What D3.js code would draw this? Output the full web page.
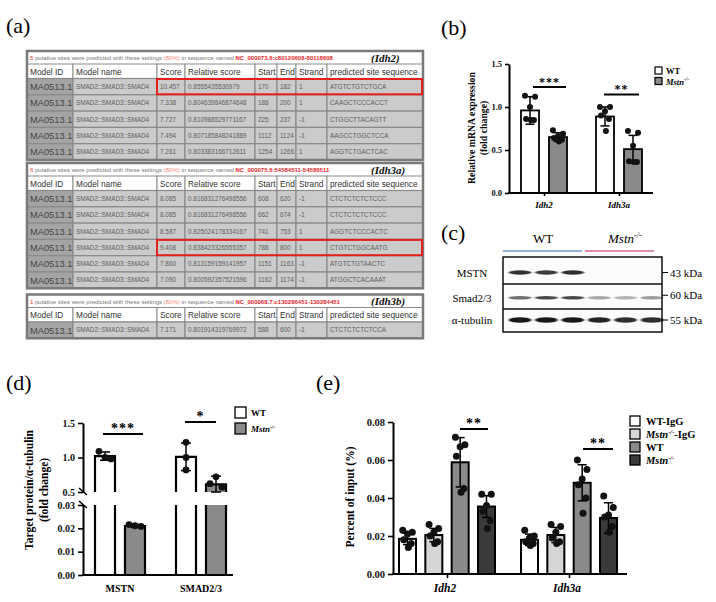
<!DOCTYPE html>
<html><head><meta charset="utf-8">
<script src="https://cdn.jsdelivr.net/npm/d3@7"></script>
<style>body{margin:0;background:#fff}svg{display:block}</style>
</head><body><svg id="c" width="716" height="602"></svg>
<script>
// ---------------- DATA ----------------
const tableColumns = ["Model ID","Model name","Score","Relative score","Start","End","Strand","predicted site sequence"];
const idh2Title = ["5","NC_000073.6:c80120608-80118608","Idh2"];
const idh2Sites = [
  ["MA0513.1","SMAD2::SMAD3::SMAD4","10.457","0.8555435536979","170","182","1","ATGTCTGTCTGCA"],
  ["MA0513.1","SMAD2::SMAD3::SMAD4","7.338","0.804639846874648","188","200","1","CAAGCTCCCACCT"],
  ["MA0513.1","SMAD2::SMAD3::SMAD4","7.727","0.810988529771167","225","237","-1","CTGGCTTACAGTT"],
  ["MA0513.1","SMAD2::SMAD3::SMAD4","7.494","0.807185848241889","1112","1124","-1","AAGCCTGGCTCCA"],
  ["MA0513.1","SMAD2::SMAD3::SMAD4","7.261","0.803383166712611","1254","1266","1","AGGTCTGACTCAC"]
];
const idh3aTitle = ["6","NC_000075.6:54584511-54586511","Idh3a"];
const idh3aSites = [
  ["MA0513.1","SMAD2::SMAD3::SMAD4","8.085","0.816831276498556","608","620","-1","CTCTCTCTCTCCC"],
  ["MA0513.1","SMAD2::SMAD3::SMAD4","8.085","0.816831276498556","662","674","-1","CTCTCTCTCTCCC"],
  ["MA0513.1","SMAD2::SMAD3::SMAD4","8.587","0.825024178334167","741","753","1","AGGTCTCCCACTC"],
  ["MA0513.1","SMAD2::SMAD3::SMAD4","9.408","0.838423326555357","788","800","1","CTGTCTGGCAATG"],
  ["MA0513.1","SMAD2::SMAD3::SMAD4","7.860","0.813159159141957","1151","1163","-1","ATGTCTGTAACTC"],
  ["MA0513.1","SMAD2::SMAD3::SMAD4","7.090","0.800592357521596","1162","1174","-1","ATGGCTCACAAAT"]
];
const idh3bTitle = ["1","NC_000068.7:c130286451-130284451","Idh3b"];
const idh3bSites = [
  ["MA0513.1","SMAD2::SMAD3::SMAD4","7.171","0.801914319769972","588","600","-1","CTCTCTCTCTCCA"]
];
const highlightRows = [0, 3, -1];

// panel b
const bGenes = ["Idh2","Idh3a"];
const bGroups = ["WT","Mstn"];
const bMeans = [[0.96,0.65],[0.89,0.51]];
const bSD = [[0.16,0.05],[0.11,0.16]];
const bPoints = [
  [[1.13,1.12,1.0,0.86,0.85,0.85],[0.73,0.69,0.66,0.64,0.62,0.60]],
  [[1.0,1.0,0.95,0.9,0.86,0.72],[0.72,0.70,0.55,0.37,0.36,0.36]]
];
const bTicks = [0,0.5,1.0,1.5];
const bSig = ["***","**"];

// panel c
const blotRows = ["MSTN","Smad2/3","α-tubulin"];
const blotMarkers = ["43 kDa","60 kDa","55 kDa"];
const blotGroups = ["WT","Mstn"];
const bandIntensity = [
  [0.85,0.8,0.85,0,0,0],
  [0.6,0.75,0.75,0.35,0.3,0.4],
  [0.95,0.95,0.95,0.9,0.85,0.85]
];

// panel d
const dTargets = ["MSTN","SMAD2/3"];
const dMeans = [[1.02,0.021],[1.01,0.61]];
const dSD = [[0.06,0.0006],[0.2,0.12]];
const dPoints = [[[1.09,1.0,0.98],[0.0216,0.0211,0.0208]],[[1.22,1.0,0.82],[0.72,0.62,0.57]]];
const dTicksUpper = [0.5,1.0,1.5];
const dTicksLower = [0,0.01,0.02,0.03];
const dSig = ["***","*"];

// panel e
const eGenes = ["Idh2","Idh3a"];
const eGroups = ["WT-IgG","Mstn-IgG","WT","Mstn"];
const eMeans = [[0.0185,0.0205,0.0588,0.0355],[0.018,0.0205,0.048,0.0295]];
const eSD = [[0.003,0.0035,0.013,0.0057],[0.003,0.004,0.0095,0.008]];
const ePoints = [
  [[0.023,0.022,0.021,0.018,0.016,0.014],[0.026,0.024,0.022,0.020,0.017,0.016],[0.072,0.068,0.067,0.062,0.045,0.043],[0.042,0.042,0.036,0.033,0.028,0.024]],
  [[0.023,0.020,0.019,0.017,0.016,0.015],[0.026,0.025,0.022,0.019,0.017,0.016],[0.060,0.055,0.050,0.047,0.040,0.032],[0.041,0.035,0.031,0.030,0.025,0.022]]
];
const eTicks = [0,0.02,0.04,0.06,0.08];
const eSig = ["**","**"];

// ---------------- DRAW ----------------
const svg = d3.select("#c");
const serif = "'Liberation Serif','Times New Roman',serif";
const sans = "'Liberation Sans',Arial,sans-serif";
const jit = [-0.28,0.28,0,-0.22,0.22,0.05];

function mstn(sel, size, extra) {
  sel.append("tspan").attr("font-style","italic").text("Mstn");
  sel.append("tspan").attr("font-style","italic").attr("font-size",size*0.62).attr("dy",-size*0.38).text("-/-");
  if (extra) sel.append("tspan").attr("dy",size*0.38).text(extra);
}

// panel labels
[["(a)",6,33],["(b)",441,35],["(c)",441,240],["(d)",6,390],["(e)",316,390]].forEach(p=>{
  svg.append("text").attr("x",p[1]).attr("y",p[2]).attr("font-family",serif).attr("font-size",22).text(p[0]);
});

// ---------- tables ----------
const colX = [27,73,157,185,255,277,296,327,423];
function drawTable(top, title, rows, hi) {
  const g = svg.append("g");
  const titleH = 13, headH = 14.5, rowH = 16.3;
  const L = colX[0], R = colX[colX.length-1];
  const yHead = top + titleH, yRows = yHead + headH;
  const bottom = yRows + rows.length*rowH;
  g.append("rect").attr("x",L).attr("y",top).attr("width",R-L).attr("height",bottom-top).attr("fill","#fff");
  const t = g.append("text").attr("x",L+3).attr("y",top+9).attr("font-family",sans).attr("font-size",6).attr("fill","#777");
  t.append("tspan").attr("fill","#e8403a").text(title[0]);
  t.append("tspan").text(" putative sites were predicted with these settings ");
  t.append("tspan").attr("fill","#f08a80").text("(80%)");
  t.append("tspan").text(" in sequence named ");
  t.append("tspan").attr("fill","#e8262a").attr("font-weight","bold").text(title[1]);
  g.append("text").attr("x",L+344).attr("y",top+10.5).attr("font-family",serif).attr("font-size",11).attr("font-weight","bold").attr("font-style","italic").attr("fill","#111").text("("+title[2]+")");
  g.selectAll(".hc").data(tableColumns).join("rect").attr("x",(d,j)=>colX[j]).attr("y",yHead).attr("width",(d,j)=>colX[j+1]-colX[j]).attr("height",headH).attr("fill","#fff").attr("stroke","#8c8c8c").attr("stroke-width",1);
  g.selectAll(".ht").data(tableColumns).join("text").attr("x",(d,j)=>colX[j]+3).attr("y",yHead+10.5).attr("font-family",sans).attr("font-size",8.3).attr("fill","#333").text(d=>d);
  rows.forEach((r,i)=>{
    const y = yRows + i*rowH;
    g.selectAll(".c"+i).data(r).join("rect").attr("x",(d,j)=>colX[j]).attr("y",y).attr("width",(d,j)=>colX[j+1]-colX[j]).attr("height",rowH)
      .attr("fill",(d,j)=>j===0?"#a4a4a4":"#cbcbcb").attr("stroke","#8a8a8a").attr("stroke-width",1.2);
    g.selectAll(".t"+i).data(r).join("text").attr("x",(d,j)=>colX[j]+3).attr("y",(d,j)=>y+rowH/2+(j===0?3.4:2.3))
      .attr("font-family",sans).attr("font-size",(d,j)=>j===0?9.3:6.4).attr("fill",(d,j)=>j===0?"#444":"#606060").text(d=>d);
  });
  g.append("rect").attr("x",L).attr("y",top).attr("width",R-L).attr("height",bottom-top).attr("fill","none").attr("stroke","#7a7a7a").attr("stroke-width",2.5);
  if (hi >= 0) {
    g.append("rect").attr("x",colX[2]).attr("y",yRows+hi*rowH+0.5).attr("width",R-colX[2]-1).attr("height",rowH-1)
      .attr("fill","none").attr("stroke","#e3201c").attr("stroke-width",2);
  }
  return bottom;
}
drawTable(51, idh2Title, idh2Sites, highlightRows[0]);
drawTable(163, idh3aTitle, idh3aSites, highlightRows[1]);
drawTable(294.5, idh3bTitle, idh3bSites, highlightRows[2]);

function styleAxis(g, fs) {
  g.attr("font-family",serif).attr("font-size",fs).attr("font-weight","bold");
  g.selectAll("path.domain").attr("stroke","#000").attr("stroke-width",2);
  g.selectAll(".tick line").attr("stroke","#000").attr("stroke-width",1.6);
  g.selectAll(".tick text").attr("fill","#111");
}
function errBar(g, x, y1, y2, cap) {
  g.append("line").attr("x1",x).attr("x2",x).attr("y1",y1).attr("y2",y2).attr("stroke","#000").attr("stroke-width",1.5);
  g.append("line").attr("x1",x-cap/2).attr("x2",x+cap/2).attr("y1",y1).attr("y2",y1).attr("stroke","#000").attr("stroke-width",1.5);
  g.append("line").attr("x1",x-cap/2).attr("x2",x+cap/2).attr("y1",y2).attr("y2",y2).attr("stroke","#000").attr("stroke-width",1.5);
}
function sig(g, txt, cx, x1, x2, yLine, fs) {
  g.append("text").attr("x",cx).attr("y",yLine-1.5).attr("text-anchor","middle").attr("font-family",serif).attr("font-weight","bold").attr("font-size",fs).attr("letter-spacing",1).text(txt);
  g.append("line").attr("x1",x1).attr("x2",x2).attr("y1",yLine).attr("y2",yLine).attr("stroke","#000").attr("stroke-width",2);
}

// ---------- panel b ----------
{
  const g = svg.append("g");
  const y = d3.scaleLinear().domain([0,1.5]).range([193,64]);
  const x = d3.scalePoint().domain(bGenes).range([544,619]);
  const off = d3.scalePoint().domain(bGroups).range([-14,14]);
  const bw = 18, fills = ["#fff","#8a8a8a"];
  bGenes.forEach((gene,gi)=>{
    bGroups.forEach((grp,si)=>{
      const cx = x(gene)+off(grp);
      g.append("rect").attr("x",cx-bw/2).attr("y",y(bMeans[gi][si])).attr("width",bw).attr("height",y(0)-y(bMeans[gi][si]))
        .attr("fill",fills[si]).attr("stroke","#000").attr("stroke-width",1.8);
      errBar(g, cx, y(bMeans[gi][si]+bSD[gi][si]), y(bMeans[gi][si]-bSD[gi][si]), 9);
      g.selectAll(null).data(bPoints[gi][si]).join("circle").attr("cx",(d,i)=>cx+jit[i]*bw).attr("cy",d=>y(d)).attr("r",3).attr("fill","#111");
    });
  });
  const ax = g.append("g").attr("transform","translate(509,0)").call(d3.axisLeft(y).tickValues(bTicks).tickFormat(d3.format(".1f")).tickSize(4).tickSizeOuter(0));
  styleAxis(ax, 8.5);
  g.append("line").attr("x1",508).attr("x2",653).attr("y1",193).attr("y2",193).attr("stroke","#000").attr("stroke-width",2);
  const xa = g.append("g").attr("transform","translate(0,193)").call(d3.axisBottom(x).tickSize(3).tickFormat(""));
  xa.select(".domain").remove(); xa.selectAll(".tick line").attr("stroke","#000").attr("stroke-width",1.6);
  bGenes.forEach(gene=>g.append("text").attr("x",x(gene)).attr("y",208).attr("text-anchor","middle").attr("font-family",serif).attr("font-weight","bold").attr("font-style","italic").attr("font-size",9).text(gene));
  const yl = g.append("text").attr("transform","translate(475,128) rotate(-90)").attr("text-anchor","middle").attr("font-family",serif).attr("font-weight","bold").attr("font-size",9.8);
  yl.append("tspan").attr("x",0).attr("dy",0).text("Relative mRNA expression");
  yl.append("tspan").attr("x",0).attr("dy",11.5).text("(fold change)");
  sig(g, bSig[0], 549.5, 533, 566, 87, 12);
  sig(g, bSig[1], 621.5, 604, 639, 94.5, 12);
  bGroups.forEach((grp,i)=>{
    g.append("rect").attr("x",655).attr("y",67+i*10.5).attr("width",7).attr("height",7).attr("fill",fills[i]).attr("stroke","#000").attr("stroke-width",1.2);
    const t = g.append("text").attr("x",666).attr("y",74+i*10.5).attr("font-family",serif).attr("font-weight","bold").attr("font-size",8.5);
    if (grp==="WT") t.text("WT"); else mstn(t,8.5);
  });
}

// ---------- panel c ----------
{
  const g = svg.append("g");
  const defs = svg.append("defs");
  defs.append("filter").attr("id","blur").attr("x","-50%").attr("y","-200%").attr("width","200%").attr("height","500%")
    .append("feGaussianBlur").attr("stdDeviation","1.1 0.7");
  const lanes = d3.scalePoint().domain(d3.range(6)).range([520,652]);
  const rowY = d3.scalePoint().domain(blotRows).range([272.5,320]);
  const heights = [3.2,2.4,4.4];
  g.append("rect").attr("x",503).attr("y",257).attr("width",159).attr("height",75).attr("fill","#fcfcfc");
  blotRows.forEach((r,ri)=>{
    bandIntensity[ri].forEach((v,li)=>{
      if (v<=0) return;
      g.append("ellipse").attr("cx",lanes(li)).attr("cy",rowY(r)+(ri===1?1.5:0)).attr("rx",11.5).attr("ry",heights[ri]/2+0.6)
        .attr("fill","#111").attr("opacity",v).attr("filter","url(#blur)");
    });
    g.append("text").attr("x",472).attr("y",rowY(r)+(ri===1?1.5:0)+4).attr("text-anchor","middle").attr("font-family",serif).attr("font-size",11).text(r);
    g.append("line").attr("x1",662).attr("x2",668).attr("y1",rowY(r)+(ri===1?-1:0)).attr("y2",rowY(r)+(ri===1?-1:0)).attr("stroke","#000").attr("stroke-width",1);
    g.append("text").attr("x",670).attr("y",rowY(r)+(ri===1?-1:0)+4).attr("font-family",serif).attr("font-size",11).text(blotMarkers[ri]);
  });
  g.append("rect").attr("x",503).attr("y",257).attr("width",159).attr("height",75).attr("fill","none").attr("stroke","#111").attr("stroke-width",1.5);
  [284,309].forEach(yy=>g.append("line").attr("x1",503).attr("x2",662).attr("y1",yy).attr("y2",yy).attr("stroke","#111").attr("stroke-width",1.5));
  g.append("line").attr("x1",503).attr("x2",582).attr("y1",251).attr("y2",251).attr("stroke","#97afdc").attr("stroke-width",2.2);
  g.append("line").attr("x1",585).attr("x2",654).attr("y1",251).attr("y2",251).attr("stroke","#e28fa5").attr("stroke-width",2.2);
  g.append("text").attr("x",543).attr("y",243).attr("text-anchor","middle").attr("font-family",serif).attr("font-size",13).text(blotGroups[0]);
  const m = g.append("text").attr("x",608).attr("y",243).attr("font-family",serif).attr("font-size",13);
  mstn(m,13);
}

// ---------- panel d ----------
{
  const g = svg.append("g");
  const yU = d3.scaleLinear().domain([0.5,1.5]).range([492,423]);
  const yL = d3.scaleLinear().domain([0,0.03]).range([575,505]);
  const x = d3.scalePoint().domain(dTargets).range([120,201]);
  const off = d3.scalePoint().domain(["WT","Mstn"]).range([-15,15]);
  const bw = 20, fills = ["#fff","#8a8a8a"];
  const dJit = [[[-0.3,0,0.3],[-0.3,0,0.3]],[[0,0,0],[0,-0.3,0.3]]];
  dTargets.forEach((tg,gi)=>{
    ["WT","Mstn"].forEach((grp,si)=>{
      const cx = x(tg)+off(grp), v = dMeans[gi][si];
      const x0 = cx-bw/2, x1 = cx+bw/2;
      const lt = yL(Math.min(v,0.03));
      g.append("rect").attr("x",x0).attr("y",lt).attr("width",bw).attr("height",yL(0)-lt).attr("fill",fills[si]);
      g.append("path").attr("d", v>0.03 ? `M${x0},${yL(0)}V${lt}M${x1},${yL(0)}V${lt}` : `M${x0},${yL(0)}V${lt}H${x1}V${yL(0)}`)
        .attr("fill","none").attr("stroke","#000").attr("stroke-width",2.2);
      const sc = v>0.5 ? yU : yL;
      if (v>0.5) {
        const ut = yU(v);
        g.append("rect").attr("x",x0).attr("y",ut).attr("width",bw).attr("height",yU(0.5)-ut).attr("fill",fills[si]);
        g.append("path").attr("d",`M${x0},${yU(0.5)}V${ut}H${x1}V${yU(0.5)}`).attr("fill","none").attr("stroke","#000").attr("stroke-width",2.2);
        errBar(g, cx, yU(v+dSD[gi][si]), yU(Math.max(v-dSD[gi][si],0.5)), 10);
      } else {
        errBar(g, cx, yL(v+dSD[gi][si]), yL(v-dSD[gi][si]), 8);
      }
      g.selectAll(null).data(dPoints[gi][si]).join("circle").attr("cx",(d,i)=>cx+dJit[gi][si][i]*bw).attr("cy",d=>sc(d)).attr("r",3.4).attr("fill","#111");
    });
  });
  const au = g.append("g").attr("transform","translate(83,0)").call(d3.axisLeft(yU).tickValues(dTicksUpper).tickFormat(d3.format(".1f")).tickSize(5).tickSizeOuter(0));
  styleAxis(au, 10);
  const al = g.append("g").attr("transform","translate(83,0)").call(d3.axisLeft(yL).tickValues(dTicksLower).tickFormat(d3.format(".2f")).tickSize(5).tickSizeOuter(0));
  styleAxis(al, 10);
  [492,505].forEach(b=>g.append("line").attr("x1",79).attr("x2",87).attr("y1",b-4).attr("y2",b+3).attr("stroke","#000").attr("stroke-width",1.5));
  g.append("line").attr("x1",82).attr("x2",233).attr("y1",575).attr("y2",575).attr("stroke","#000").attr("stroke-width",2);
  dTargets.forEach(tg=>g.append("text").attr("x",x(tg)).attr("y",592).attr("text-anchor","middle").attr("font-family",serif).attr("font-weight","bold").attr("font-size",10).text(tg));
  const yl = g.append("text").attr("transform","translate(33,490) rotate(-90)").attr("text-anchor","middle").attr("font-family",serif).attr("font-weight","bold").attr("font-size",11.5);
  yl.append("tspan").attr("x",0).attr("dy",0).text("Target protein/α-tubulin");
  yl.append("tspan").attr("x",0).attr("dy",15).text("(fold change)");
  sig(g, dSig[0], 123, 103, 143, 434, 14);
  sig(g, dSig[1], 200.5, 185, 216, 422, 14);
  ["WT","Mstn"].forEach((grp,i)=>{
    g.append("rect").attr("x",235).attr("y",407+i*16).attr("width",11).attr("height",11).attr("fill",fills[i]).attr("stroke","#000").attr("stroke-width",1.3);
    const t = g.append("text").attr("x",251).attr("y",416+i*16).attr("font-family",serif).attr("font-weight","bold").attr("font-size",9);
    if (grp==="WT") t.text("WT"); else mstn(t,9);
  });
}

// ---------- panel e ----------
{
  const g = svg.append("g");
  const y = d3.scaleLinear().domain([0,0.08]).range([574,422]);
  const x = d3.scalePoint().domain(eGenes).range([447,569]);
  const off = d3.scalePoint().domain(eGroups).range([-39.5,39.5]);
  const bw = 17, fills = ["#fff","#d6d6d6","#8a8a8a","#3a3a3a"];
  eGenes.forEach((gene,gi)=>{
    eGroups.forEach((grp,si)=>{
      const cx = x(gene)+off(grp), v = eMeans[gi][si];
      g.append("rect").attr("x",cx-bw/2).attr("y",y(v)).attr("width",bw).attr("height",y(0)-y(v)).attr("fill",fills[si]).attr("stroke","#000").attr("stroke-width",2);
      errBar(g, cx, y(v+eSD[gi][si]), y(v-eSD[gi][si]), 9);
      g.selectAll(null).data(ePoints[gi][si]).join("circle").attr("cx",(d,i)=>cx+jit[i]*bw).attr("cy",d=>y(d)).attr("r",3.5).attr("fill","#111");
    });
  });
  const ax = g.append("g").attr("transform","translate(393,0)").call(d3.axisLeft(y).tickValues(eTicks).tickFormat(d3.format(".2f")).tickSize(5).tickSizeOuter(0));
  styleAxis(ax, 10.5);
  g.append("line").attr("x1",392).attr("x2",627).attr("y1",574).attr("y2",574).attr("stroke","#000").attr("stroke-width",2);
  const xa = g.append("g").attr("transform","translate(0,574)").call(d3.axisBottom(x).tickSize(4).tickFormat(""));
  xa.select(".domain").remove(); xa.selectAll(".tick line").attr("stroke","#000").attr("stroke-width",1.6);
  eGenes.forEach(gene=>g.append("text").attr("x",x(gene)-2).attr("y",592).attr("text-anchor","middle").attr("font-family",serif).attr("font-weight","bold").attr("font-style","italic").attr("font-size",11.5).text(gene));
  g.append("text").attr("transform","translate(354,497) rotate(-90)").attr("text-anchor","middle").attr("font-family",serif).attr("font-weight","bold").attr("font-size",11.5).text("Percent of input (%)");
  sig(g, eSig[0], 474, 460, 488, 429, 14);
  sig(g, eSig[1], 598, 583, 613, 449, 14);
  eGroups.forEach((grp,i)=>{
    g.append("rect").attr("x",630).attr("y",416+i*13).attr("width",10).attr("height",10).attr("fill",fills[i]).attr("stroke","#000").attr("stroke-width",1.3);
    const t = g.append("text").attr("x",646).attr("y",425+i*13).attr("font-family",serif).attr("font-weight","bold").attr("font-size",10.5);
    if (grp==="WT-IgG") t.text("WT-IgG");
    else if (grp==="Mstn-IgG") mstn(t,10.5,"-IgG");
    else if (grp==="WT") t.text("WT");
    else mstn(t,10.5);
  });
}
</script></body></html>
